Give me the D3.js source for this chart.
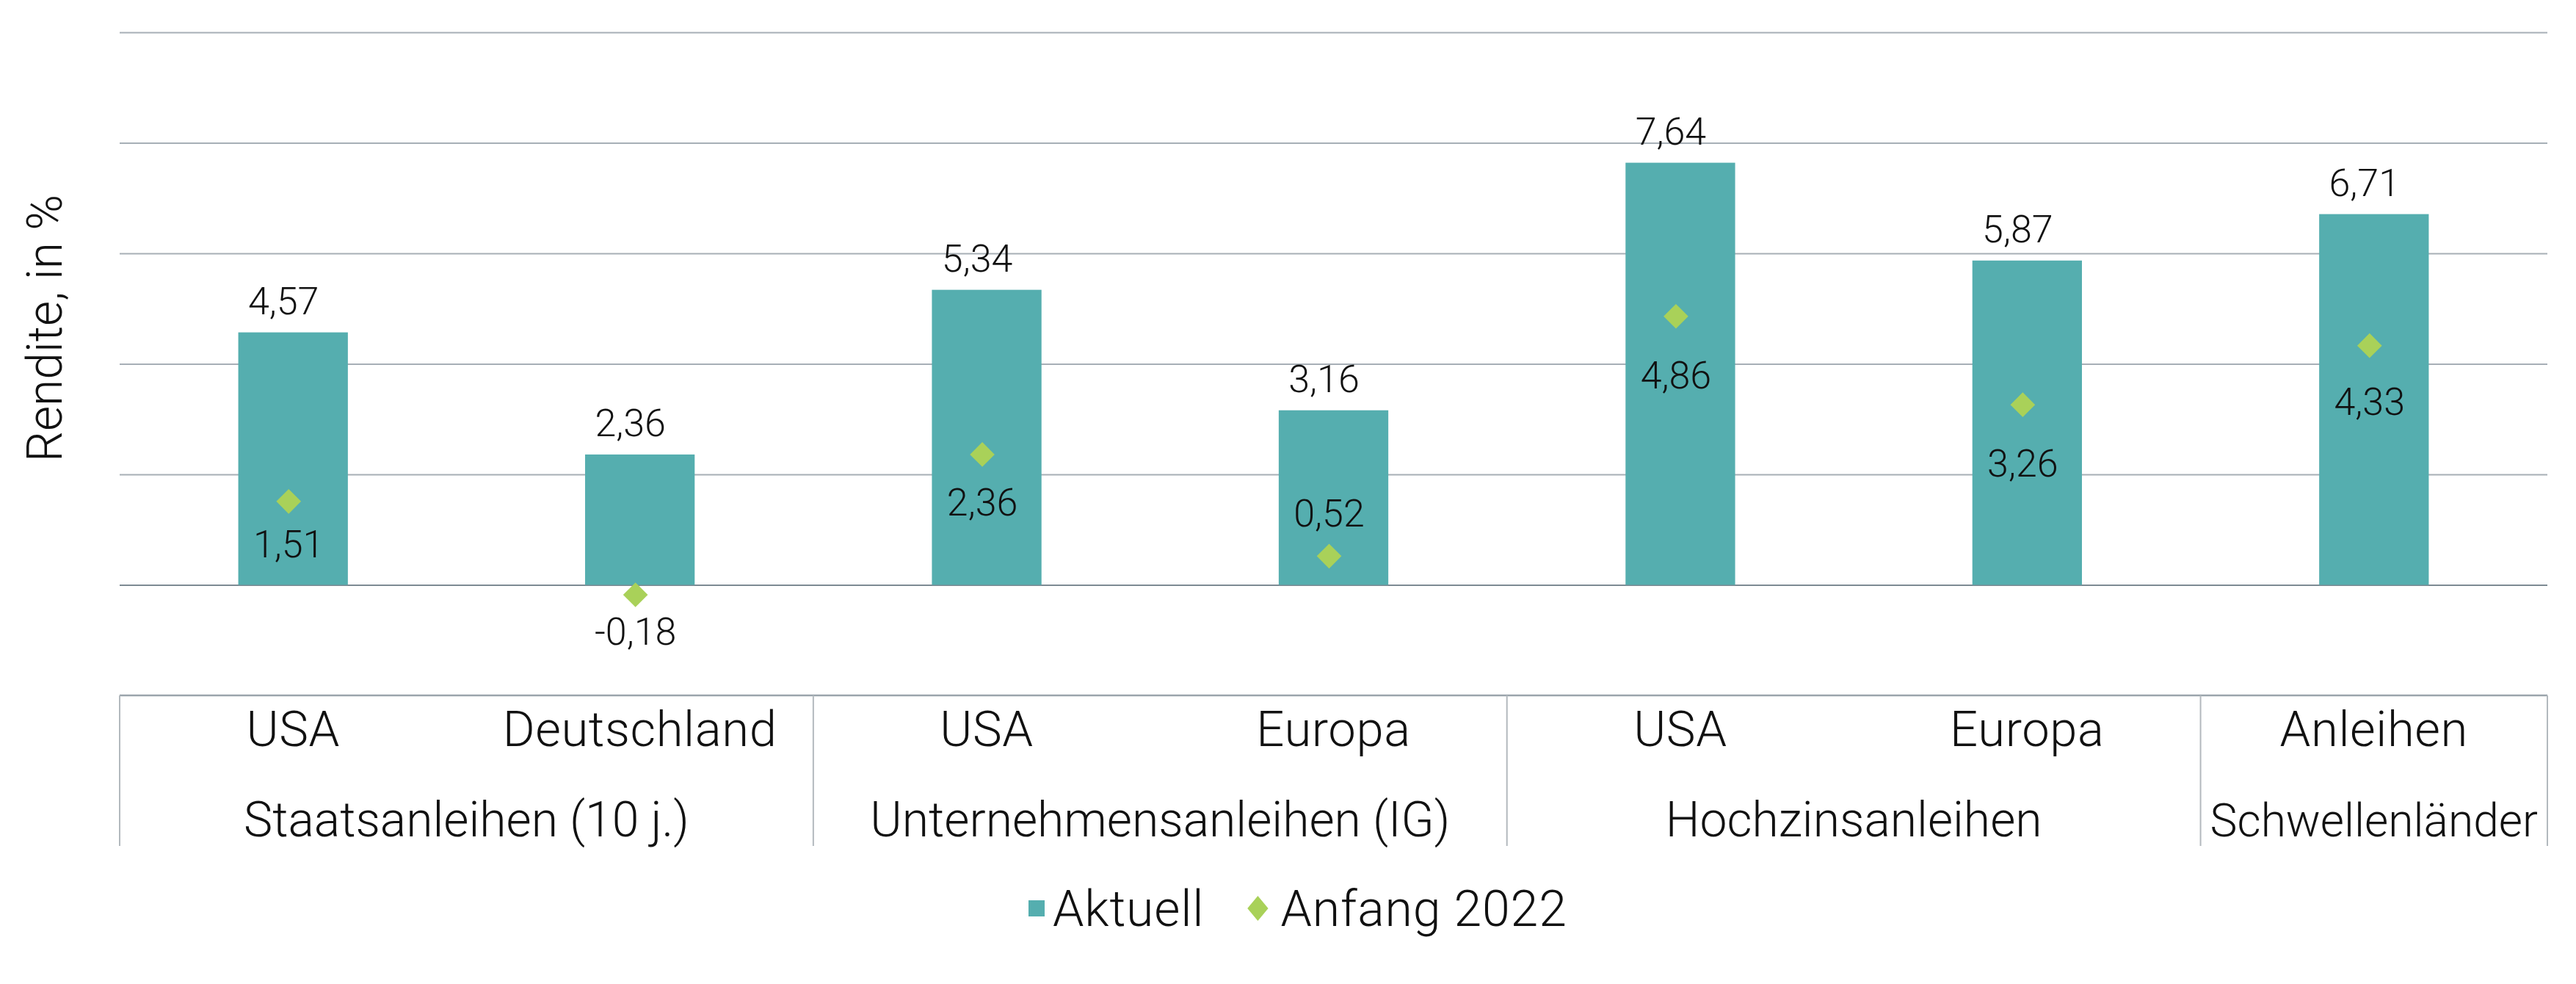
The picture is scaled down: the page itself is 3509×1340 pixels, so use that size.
<!DOCTYPE html>
<html>
<head>
<meta charset="utf-8">
<script src="https://cdn.jsdelivr.net/npm/d3@7.9.0/dist/d3.min.js"></script>
<style>
  body { margin: 0; background: #fff; }
  text { font-family: Roboto, "Liberation Sans", sans-serif; font-weight: 300; fill: #111; }
</style>
</head>
<body>
<script>
// categories (lower row) and groups (upper row of the axis table)
const categories = ["USA", "Deutschland", "USA", "Europa", "USA", "Europa", "Anleihen"];
const groupNames = ["Staatsanleihen (10 j.)", "Unternehmensanleihen (IG)", "Hochzinsanleihen", "Schwellenländer"];
const groupSizes = [2, 2, 2, 1];

// series
const aktuell = [4.57, 2.36, 5.34, 3.16, 7.64, 5.87, 6.71];
const anfang2022 = [1.51, -0.18, 2.36, 0.52, 4.86, 3.26, 4.33];
const seriesNames = ["Aktuell", "Anfang 2022"];

const yTicks = [0, 2, 4, 6, 8, 10];
const yDomain = [-2, 10];

// styling
const barColor = "#55aeaf";
const markerColor = "#a9d159";
const gridColor = "#a7afb6";
// vertical label offsets for the marker labels (as placed in the original)
const markerLabelDy = [76, 68, 83, -40, 98, 98, 94];

const W = 3509, H = 1340;
const margin = { top: 44, right: 39, bottom: 393, left: 163 };
const innerW = W - margin.left - margin.right;
const innerH = H - margin.top - margin.bottom;

const svg = d3.select("body").append("svg")
    .attr("width", W)
    .attr("height", H);

const g = svg.append("g")
    .attr("transform", `translate(${margin.left},${margin.top})`);

const idx = d3.range(categories.length);

const x = d3.scaleBand()
    .domain(idx)
    .range([0, innerW])
    .paddingInner(0.684)
    .paddingOuter(0.342);

const y = d3.scaleLinear()
    .domain(yDomain)
    .range([innerH, 0]);

const locale = d3.formatLocale({ decimal: ",", thousands: ".", grouping: [3], currency: ["", "€"], minus: "-" });
const fmt = locale.format(".2f");

// gridlines
const grid = g.append("g")
    .call(d3.axisLeft(y).tickValues(yTicks).tickSize(-innerW).tickFormat(""));
grid.select(".domain").remove();
grid.selectAll(".tick line")
    .attr("stroke", d => d === 0 ? "#7d8a93" : gridColor)
    .attr("stroke-width", 2);

// bars
g.selectAll(".bar")
    .data(idx)
    .enter().append("rect")
    .attr("class", "bar")
    .attr("x", i => x(i))
    .attr("y", i => y(Math.max(0, aktuell[i])))
    .attr("width", x.bandwidth())
    .attr("height", i => Math.abs(y(aktuell[i]) - y(0)))
    .attr("fill", barColor);

// bar labels
g.selectAll(".barlabel")
    .data(idx)
    .enter().append("text")
    .attr("class", "barlabel")
    .attr("x", i => x(i) + x.bandwidth() / 2 - 13)
    .attr("y", i => y(aktuell[i]) - 25)
    .attr("text-anchor", "middle")
    .style("font-size", "52px")
    .text(i => fmt(aktuell[i]));

// markers
const diamond = d3.symbol().type(d3.symbolDiamond2).size(2 * 19 * 19);
g.selectAll(".marker")
    .data(idx)
    .enter().append("path")
    .attr("class", "marker")
    .attr("d", diamond)
    .attr("transform", i => `translate(${x(i) + x.bandwidth() / 2 - 6},${y(anfang2022[i])})`)
    .attr("fill", markerColor);

g.selectAll(".markerlabel")
    .data(idx)
    .enter().append("text")
    .attr("class", "markerlabel")
    .attr("x", i => x(i) + x.bandwidth() / 2 - 6)
    .attr("y", i => y(anfang2022[i]) + markerLabelDy[i])
    .attr("text-anchor", "middle")
    .style("font-size", "52px")
    .text(i => fmt(anfang2022[i]));

// category table under the plot
const step = x.step();
const table = g.append("g").attr("transform", `translate(0,${innerH})`);
const tableH = 205;

table.append("line")
    .attr("x1", 0).attr("x2", innerW)
    .attr("y1", 0).attr("y2", 0)
    .attr("stroke", "#9aa4ac")
    .attr("stroke-width", 2.5);

const groupStarts = groupSizes.map((s, k) => d3.sum(groupSizes.slice(0, k)));
const bounds = groupStarts.concat([categories.length]);
table.selectAll(".sep")
    .data(bounds)
    .enter().append("line")
    .attr("class", "sep")
    .attr("x1", b => b * step).attr("x2", b => b * step)
    .attr("y1", 0).attr("y2", tableH)
    .attr("stroke", "#b3b9be")
    .attr("stroke-width", 2);

table.selectAll(".cat")
    .data(idx)
    .enter().append("text")
    .attr("class", "cat")
    .attr("x", i => x(i) + x.bandwidth() / 2)
    .attr("y", 69)
    .attr("text-anchor", "middle")
    .style("font-size", "67px")
    .style("letter-spacing", "0.6px")
    .text(i => categories[i]);

table.selectAll(".grp")
    .data(groupNames)
    .enter().append("text")
    .attr("class", "grp")
    .attr("x", (d, k) => (groupStarts[k] + groupSizes[k] / 2) * step)
    .attr("y", 192)
    .attr("text-anchor", "middle")
    .style("font-size", "66px")
    .text(d => d)
    .each(function (d, k) {
        // keep the label inside its cell
        const maxW = groupSizes[k] * step - 26;
        const w = this.getComputedTextLength();
        if (w > maxW) d3.select(this).style("font-size", (66 * maxW / w) + "px");
    });

// y title
svg.append("text")
    .attr("transform", "rotate(-90)")
    .attr("x", -447)
    .attr("y", 84)
    .attr("text-anchor", "middle")
    .style("font-size", "66px")
    .text("Rendite, in %");

// legend
const legend = svg.append("g").attr("transform", "translate(1401,1261)");
legend.append("rect")
    .attr("x", 0).attr("y", -35)
    .attr("width", 22).attr("height", 22)
    .attr("fill", barColor);
const t1 = legend.append("text")
    .attr("x", 33).attr("y", 0)
    .style("font-size", "68px")
    .style("letter-spacing", "0.8px")
    .text(seriesNames[0]);
const x2 = 33 + t1.node().getComputedTextLength() + 58;
legend.append("path")
    .attr("d", d3.symbol().type(d3.symbolDiamond2).size(2 * 16 * 16))
    .attr("transform", `translate(${x2 + 15},-24) scale(1,1.2)`)
    .attr("fill", markerColor);
legend.append("text")
    .attr("x", x2 + 46).attr("y", 0)
    .style("font-size", "68px")
    .style("letter-spacing", "0.8px")
    .text(seriesNames[1]);
</script>
</body>
</html>
